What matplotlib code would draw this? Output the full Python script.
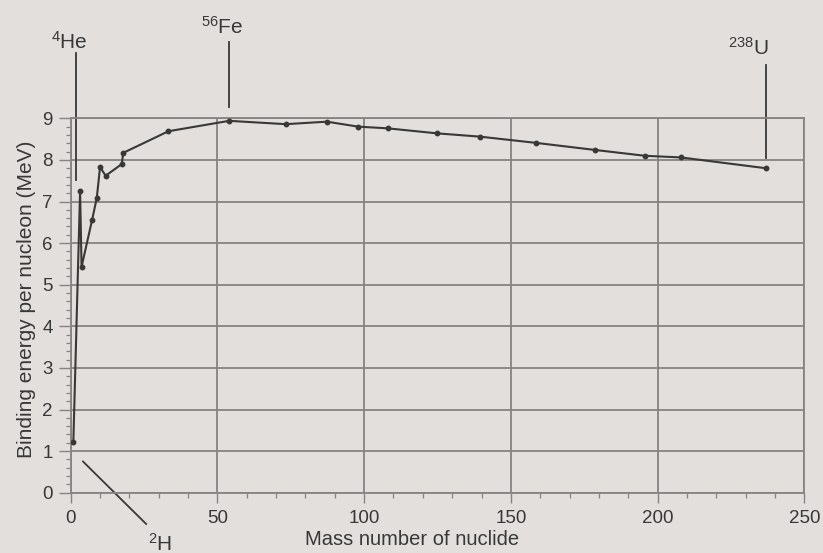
import matplotlib
matplotlib.use("Agg")
import matplotlib.pyplot as plt
from matplotlib.ticker import MultipleLocator

plt.rcParams["font.family"] = ["Liberation Sans", "DejaVu Sans"]
plt.rcParams["mathtext.fontset"] = "custom"
plt.rcParams["mathtext.rm"] = "Liberation Sans"

# Binding energy curve
mass_number = [0.9, 3.2, 3.7, 7.3, 8.9, 10.0, 11.9, 17.4, 17.9, 33.3, 54.0,
               73.3, 87.3, 98.0, 108.0, 124.7, 139.5, 158.6, 178.7, 195.7,
               208.0, 237.0]
binding_energy = [1.21, 7.25, 5.43, 6.56, 7.09, 7.83, 7.62, 7.90, 8.17, 8.69,
                  8.94, 8.86, 8.92, 8.80, 8.76, 8.64, 8.56, 8.41, 8.24, 8.10,
                  8.06, 7.80]

bg = "#e2dfdd"
grid_col = "#858383"
ink = "#383838"

fig = plt.figure(figsize=(8.23, 5.53), dpi=100, facecolor=bg)
ax = fig.add_axes([0.0859, 0.109, 0.8914, 0.677])
ax.set_facecolor(bg)

ax.set_xlim(0, 250)
ax.set_ylim(0, 9)

ax.xaxis.set_major_locator(MultipleLocator(50))
ax.xaxis.set_minor_locator(MultipleLocator(10))
ax.yaxis.set_major_locator(MultipleLocator(1))
ax.yaxis.set_minor_locator(MultipleLocator(0.2))

ax.grid(True, which="major", color=grid_col, linewidth=1.3)
ax.set_axisbelow(True)
for s in ax.spines.values():
    s.set_color(grid_col)
    s.set_linewidth(1.3)

ax.tick_params(which="both", color=grid_col, labelcolor=ink, labelsize=13.5)
ax.tick_params(axis="y", which="major", length=8.6, width=1.0, pad=4.3)
ax.tick_params(axis="y", which="minor", length=3.6, width=0.9)
ax.tick_params(axis="x", which="major", length=7.2, width=1.0, pad=5)
ax.tick_params(axis="x", which="minor", length=3.6, width=0.9)

# main curve
ax.plot(mass_number, binding_energy, color=ink, linewidth=1.5,
        marker="o", markersize=3.2, zorder=3)

# pointer lines and labels
ax.plot([1.7, 1.7], [7.52, 10.57], color=ink, linewidth=1.3, clip_on=False)
ax.text(-0.5, 10.85, r"$\mathregular{^{4}}$He", fontsize=15, color=ink,
        ha="center", va="center")
ax.plot([53.9, 53.9], [9.28, 10.84], color=ink, linewidth=1.3, clip_on=False)
ax.text(51.8, 11.2, r"$\mathregular{^{56}}$Fe", fontsize=15, color=ink,
        ha="center", va="center")
ax.plot([237.0, 237.0], [8.05, 10.28], color=ink, linewidth=1.3, clip_on=False)
ax.text(231.0, 10.7, r"$\mathregular{^{238}}$U", fontsize=15, color=ink,
        ha="center", va="center")
ax.plot([4.2, 25.7], [0.75, -0.75], color=ink, linewidth=1.3, clip_on=False)
ax.text(30.5, -1.22, r"$\mathregular{^{2}}$H", fontsize=15, color=ink,
        ha="center", va="center")

ax.set_xlabel("Mass number of nuclide", fontsize=14.5, color=ink)
ax.set_ylabel("Binding energy per nucleon (MeV)", fontsize=15, color=ink)
ax.xaxis.set_label_coords(0.465, -0.10)
ax.yaxis.set_label_coords(-0.047, 0.517)

fig.savefig("out.png", dpi=100, facecolor=bg)
